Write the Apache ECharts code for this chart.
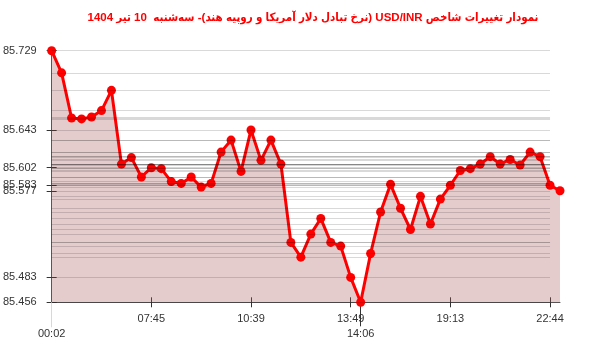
<!DOCTYPE html>
<html>
<head>
<meta charset="utf-8">
<script src="https://cdn.jsdelivr.net/npm/echarts@6/dist/echarts.min.js"></script>
<style>html,body{margin:0;padding:0;background:#fff}#c{width:600px;height:352px}</style>
</head>
<body>
<div id="c"></div>
<script>
const titleText = 'نمودار تغییرات شاخص USD/INR (نرخ تبادل دلار آمریکا و روپیه هند)- سه‌شنبه  10 تیر 1404';
const values = [
  85.729, 85.705, 85.656, 85.655, 85.657, 85.664, 85.686, 85.606, 85.613, 85.592,
  85.602, 85.601, 85.587, 85.585, 85.592, 85.581, 85.585, 85.619, 85.632, 85.598,
  85.643, 85.610, 85.632, 85.606, 85.521, 85.505, 85.530, 85.547, 85.521, 85.517,
  85.483, 85.456, 85.509, 85.554, 85.584, 85.558, 85.535, 85.571, 85.541, 85.568,
  85.583, 85.599, 85.601, 85.606, 85.614, 85.606, 85.611, 85.605, 85.619, 85.614,
  85.583, 85.577
];
const upperTickIndex = [10, 20, 30, 40, 50];
const upperTickText = ['07:45', '10:39', '13:49', '19:13', '22:44'];
const lowerTickIndex = [0, 31];
const lowerTickText = ['00:02', '14:06'];
const yTickValues = [85.729, 85.643, 85.602, 85.583, 85.577, 85.483, 85.456];
const yMin = 85.456, yMax = 85.729;

const cats = values.map((_, i) => String(i));
const labelMap = {};
upperTickIndex.forEach((k, j) => labelMap[k] = upperTickText[j]);
lowerTickIndex.forEach((k, j) => labelMap[k] = lowerTickText[j]);
const isUpper = i => upperTickIndex.indexOf(i) >= 0;
const isLower = i => lowerTickIndex.indexOf(i) >= 0;
const lastGridIdx = upperTickIndex[upperTickIndex.length - 1];

const FONT = 'Liberation Sans, Arial, sans-serif';
const lab = { color: '#333', fontFamily: FONT, fontSize: 11 };

const chart = echarts.init(document.getElementById('c'), null, { renderer: 'canvas' });
chart.setOption({
  animation: false,
  title: {
    text: '\u202B' + titleText + '\u202C',
    left: 308, top: 7, textAlign: 'center',
    textStyle: { color: '#ff0000', fontSize: 11.5, fontWeight: 'bold', fontFamily: 'Liberation Sans, DejaVu Sans Condensed, sans-serif' }
  },
  grid: { left: 50, right: 40, top: 50.7, bottom: 49.7, containLabel: false },
  xAxis: [
    { type: 'category', data: cats, boundaryGap: false, position: 'bottom',
      axisLine: { show: true, lineStyle: { color: '#555', width: 1 } },
      axisTick: { show: true, length: 5, interval: i => isUpper(i), lineStyle: { color: '#333' } },
      axisLabel: { ...lab, margin: 11, interval: i => isUpper(i), formatter: (v) => labelMap[+v] || '' },
      splitLine: { show: false } },
    { type: 'category', data: cats, boundaryGap: false, position: 'bottom',
      axisLine: { show: false },
      axisTick: { show: true, inside: true, length: 5, interval: i => isUpper(i), lineStyle: { color: '#333' } },
      axisLabel: { show: false }, splitLine: { show: false } },
    { type: 'category', data: cats, boundaryGap: false, position: 'bottom',
      axisLine: { show: false },
      axisTick: { show: true, length: 24, interval: i => i === 31, lineStyle: { color: '#333' } },
      axisLabel: { ...lab, margin: 26, interval: i => isLower(i), formatter: (v) => labelMap[+v] || '' },
      splitLine: { show: false } },
    { type: 'category', data: cats, boundaryGap: false, position: 'bottom',
      axisLine: { show: false },
      axisTick: { show: true, length: 25, interval: i => i === 0, lineStyle: { color: '#d8d8d8' } },
      axisLabel: { show: false }, splitLine: { show: false } },
    { type: 'category', data: cats, boundaryGap: false, position: 'bottom',
      axisLine: { show: false },
      axisTick: { show: true, inside: true, length: 5, interval: i => i === 31, lineStyle: { color: '#333' } },
      axisLabel: { show: false }, splitLine: { show: false } }
  ],
  yAxis: [
    { type: 'value', min: yMin, max: yMax, position: 'left',
      axisLine: { show: true, lineStyle: { color: '#555', width: 1 } },
      axisTick: { show: true, length: 5, customValues: yTickValues, lineStyle: { color: '#333' } },
      axisLabel: { ...lab, margin: 15, customValues: yTickValues, padding: [0, 0, 6, 0],
        formatter: v => v.toFixed(3) },
      splitLine: { show: false } },
    { type: 'value', min: yMin, max: yMax, position: 'left',
      axisLine: { show: false },
      axisTick: { show: true, inside: true, length: 5, customValues: yTickValues, lineStyle: { color: '#333' } },
      axisLabel: { show: false }, splitLine: { show: false } }
  ],
  series: [
    { type: 'line', data: values, z: 1, silent: true, symbol: 'none',
      lineStyle: { width: 0, opacity: 0 },
      areaStyle: { color: 'rgba(165,85,85,0.3)', opacity: 1, origin: 'start' } },
    { type: 'line', data: [], z: 2, silent: true, symbol: 'none',
      markLine: {
        silent: true, symbol: ['none', 'none'], label: { show: false },
        lineStyle: { color: 'rgba(0,0,0,0.15)', width: 1, type: 'solid', opacity: 1 },
        emphasis: { disabled: true },
        animation: false,
        data: values.map(v => [{ coord: [0, v] }, { coord: [lastGridIdx, v] }])
      } },
    { type: 'line', data: values, z: 3,
      symbol: 'circle', symbolSize: 9, showSymbol: true, showAllSymbol: true,
      itemStyle: { color: '#ff0000', opacity: 1 },
      lineStyle: { color: '#ff0000', width: 3 } }
  ]
});
</script>
</body>
</html>
